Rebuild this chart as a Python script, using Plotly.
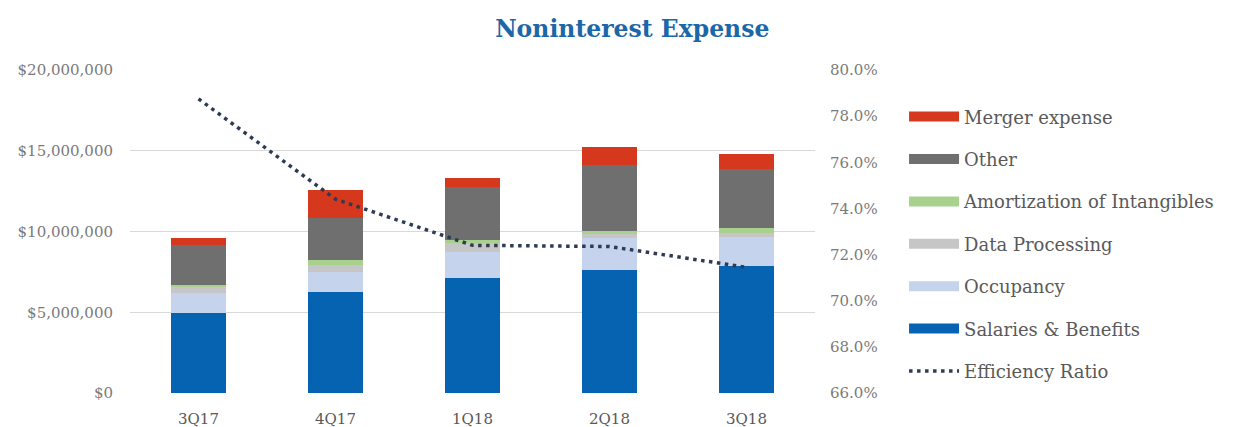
import plotly.graph_objects as go

quarters = ["3Q17", "4Q17", "1Q18", "2Q18", "3Q18"]

# Noninterest expense components, in dollars
salaries = [4950000, 6230000, 7100000, 7620000, 7860000]
occupancy = [1240000, 1280000, 1650000, 1960000, 1780000]
data_processing = [430000, 420000, 520000, 270000, 290000]
amortization = [50000, 310000, 200000, 180000, 270000]
other = [2490000, 2620000, 3260000, 4090000, 3700000]
merger = [420000, 1710000, 560000, 1130000, 870000]

# Efficiency ratio, percent
efficiency = [78.75, 74.4, 72.4, 72.35, 71.45]

y_ticks = [0, 5000000, 10000000, 15000000, 20000000]
y_tick_text = ["$0", "$5,000,000", "$10,000,000", "$15,000,000", "$20,000,000"]
y2_ticks = [66, 68, 70, 72, 74, 76, 78, 80]
y2_tick_text = ["66.0%", "68.0%", "70.0%", "72.0%", "74.0%", "76.0%", "78.0%", "80.0%"]

series = [
    ("Salaries & Benefits", salaries, "#0563b1", 6),
    ("Occupancy", occupancy, "#c5d4ec", 5),
    ("Data Processing", data_processing, "#c6c6c6", 4),
    ("Amortization of Intangibles", amortization, "#a8d18d", 3),
    ("Other", other, "#6f6f70", 2),
    ("Merger expense", merger, "#d5381d", 1),
]

SERIF = "DejaVu Serif"

fig = go.Figure()

for name, vals, color, rank in series:
    fig.add_trace(go.Bar(
        x=quarters, y=vals, name=name, marker_color=color,
        marker_line_width=0, legendgroup=name, showlegend=False,
    ))
    # wide swatch for the legend entry
    fig.add_trace(go.Scatter(
        x=[None], y=[None], mode="lines", name=name, legendgroup=name,
        line=dict(color=color, width=12), legendrank=rank, hoverinfo="skip",
    ))

fig.add_trace(go.Scatter(
    x=quarters, y=efficiency, name="Efficiency Ratio", yaxis="y2",
    mode="lines", line=dict(color="#2d3b55", width=3.5, dash="3.5px,4.5px"),
    legendgroup="Efficiency Ratio", legendrank=7,
))

fig.update_layout(
    barmode="stack",
    bargap=0.6,
    width=1252,
    height=427,
    margin=dict(l=130, r=437, t=70, b=34),
    paper_bgcolor="white",
    plot_bgcolor="white",
    title=dict(
        text="<b>Noninterest Expense</b>",
        x=0.505, xanchor="center", y=0.932, yanchor="middle",
        font=dict(family=SERIF, size=23.5, color="#1c67a8"),
    ),
    xaxis=dict(
        showgrid=False, showline=False, ticks="", automargin=False,
        tickfont=dict(family=SERIF, size=15, color="#595959"),
        ticklabelstandoff=15,
    ),
    yaxis=dict(
        range=[0, 20000000], tickvals=y_ticks, ticktext=y_tick_text,
        showgrid=True, gridcolor="#d9d9d9", gridwidth=1, zeroline=False,
        automargin=False,
        tickfont=dict(family=SERIF, size=15, color="#7a7a7a"),
        ticklabelstandoff=16,
    ),
    yaxis2=dict(
        range=[66, 80], tickvals=y2_ticks, ticktext=y2_tick_text,
        overlaying="y", side="right", showgrid=False, zeroline=False,
        automargin=False,
        tickfont=dict(family=SERIF, size=15, color="#7a7a7a"),
        ticklabelstandoff=14,
    ),
    legend=dict(
        x=1.13, y=0.912, xanchor="left", yanchor="top",
        font=dict(family=SERIF, size=18, color="#595959"),
        traceorder="grouped", tracegroupgap=16, itemwidth=50,
        bgcolor="rgba(0,0,0,0)",
    ),
    showlegend=True,
)

fig.write_html("out.html")
